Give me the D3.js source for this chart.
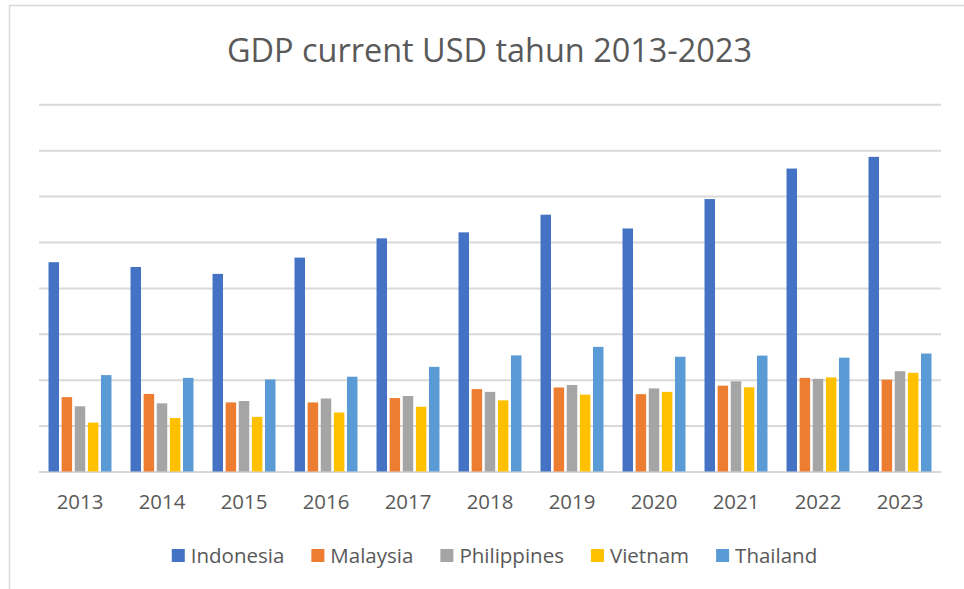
<!DOCTYPE html>
<html>
<head>
<meta charset="utf-8">
<script src="https://cdn.jsdelivr.net/npm/d3@7"></script>
<style>
  body { margin: 0; background: #fff; }
  svg { display: block; font-family: "Open Sans", sans-serif; }
</style>
</head>
<body>
<svg id="chart" width="964" height="589"></svg>
<script>
// GDP, current USD (billions)
const years = ["2013", "2014", "2015", "2016", "2017", "2018", "2019", "2020", "2021", "2022", "2023"];
const countries = ["Indonesia", "Malaysia", "Philippines", "Vietnam", "Thailand"];
const colours = ["#4472C4", "#ED7D31", "#A5A5A5", "#FFC000", "#5B9BD5"];

const indonesia   = [912, 891, 861, 932, 1016, 1042, 1119, 1059, 1187, 1320, 1371];
const malaysia    = [324, 338, 301, 301, 320, 359, 366, 337, 374, 408, 400];
const philippines = [284, 297, 307, 318, 329, 347, 377, 362, 393, 404, 437];
const vietnam     = [213, 233, 238, 257, 282, 310, 335, 347, 367, 410, 430];
const thailand    = [420, 408, 401, 413, 456, 506, 543, 500, 505, 496, 514];

const gridTicks = [0, 200, 400, 600, 800, 1000, 1200, 1400, 1600];

const seriesValues = [indonesia, malaysia, philippines, vietnam, thailand];
const rows = years.map((yr, i) => ({
    year: yr,
    values: countries.map((c, j) => ({ country: c, value: seriesValues[j][i] }))
}));

const svg = d3.select('#chart');
const plot = { left: 39, right: 941, top: 104.3, bottom: 471.5 };

// chart area frame (cropped at right and bottom)
svg.append('path')
    .attr('d', 'M9.5,589 L9.5,5.5 L964,5.5')
    .attr('fill', 'none')
    .attr('stroke', '#d9d9d9')
    .attr('stroke-width', 1.5);

const x0 = d3.scaleBand()
    .domain(years)
    .range([plot.left, plot.right])
    .paddingInner(0.232)
    .paddingOuter(0.116);

const x1 = d3.scaleBand()
    .domain(countries)
    .range([0, x0.bandwidth()])
    .paddingInner(0.2);

const y = d3.scaleLinear()
    .domain([0, 1600])
    .range([plot.bottom, plot.top]);

const colour = d3.scaleOrdinal().domain(countries).range(colours);

// gridlines (no value labels in the original)
const grid = svg.append('g')
    .attr('class', 'grid')
    .attr('transform', `translate(${plot.left},0)`)
    .call(d3.axisLeft(y).tickValues(gridTicks).tickSize(-(plot.right - plot.left)).tickFormat(''));
grid.select('.domain').remove();
grid.selectAll('line').attr('stroke', '#d9d9d9').attr('stroke-width', 2);

// bars
const groups = svg.append('g').attr('class', 'bars')
    .selectAll('g')
    .data(rows)
    .join('g')
    .attr('transform', d => `translate(${x0(d.year)},0)`);

groups.selectAll('rect')
    .data(d => d.values)
    .join('rect')
    .attr('x', d => x1(d.country))
    .attr('y', d => y(d.value))
    .attr('width', x1.bandwidth())
    .attr('height', d => y(0) - y(d.value))
    .attr('fill', d => colour(d.country));

// category axis
const xAxis = svg.append('g')
    .attr('class', 'x-axis')
    .attr('transform', `translate(0,${plot.bottom})`)
    .call(d3.axisBottom(x0).tickSize(0).tickPadding(0));
xAxis.select('.domain').remove();
xAxis.selectAll('text')
    .attr('dy', null)
    .attr('y', 37.8)
    .attr('fill', '#595959')
    .style('font-family', '"Open Sans", sans-serif')
    .style('font-size', '20.4px');

// title
const title = svg.append('text')
    .attr('x', 489.5)
    .attr('y', 61.7)
    .attr('text-anchor', 'middle')
    .attr('fill', '#595959')
    .style('font-size', '32.5px')
    .text('GDP current USD tahun 2013-2023');
title.attr('textLength', 525).attr('lengthAdjust', 'spacingAndGlyphs');

// legend
const legend = svg.append('g').attr('class', 'legend');
const items = legend.selectAll('g')
    .data(countries)
    .join('g');

items.append('rect')
    .attr('width', 13)
    .attr('height', 13)
    .attr('y', 549)
    .attr('fill', d => colour(d));

items.append('text')
    .attr('x', 19)
    .attr('y', 563.3)
    .attr('fill', '#595959')
    .style('font-size', '20.5px')
    .text(d => d);

let cursor = 0;
const offsets = [];
items.each(function() {
    offsets.push(cursor);
    const w = 19 + d3.select(this).select('text').node().getComputedTextLength();
    cursor += w + 27;
});
const totalWidth = cursor - 27;
const legendStart = 494.5 - totalWidth / 2;
items.attr('transform', (d, i) => `translate(${legendStart + offsets[i]},0)`);
</script>
</body>
</html>
